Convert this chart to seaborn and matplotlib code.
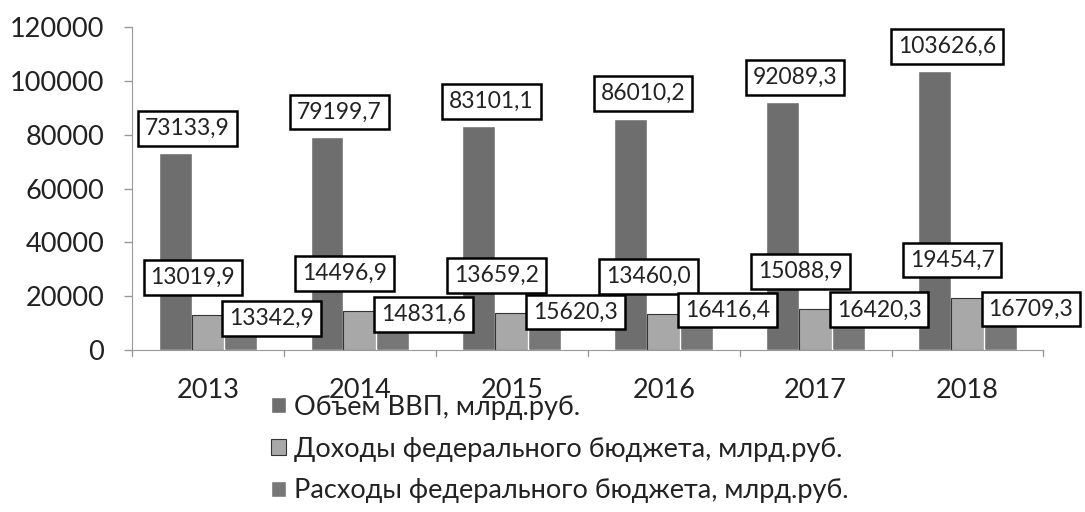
import matplotlib
matplotlib.use("Agg")
import matplotlib.pyplot as plt
import seaborn as sns
import pandas as pd

# DATA
years = ["2013", "2014", "2015", "2016", "2017", "2018"]
gdp = [73133.9, 79199.7, 83101.1, 86010.2, 92089.3, 103626.6]
revenue = [13019.9, 14496.9, 13659.2, 13460.0, 15088.9, 19454.7]
expenses = [13342.9, 14831.6, 15620.3, 16416.4, 16420.3, 16709.3]
series_names = ["Объем ВВП, млрд.руб.",
                "Доходы федерального бюджета, млрд.руб.",
                "Расходы федерального бюджета, млрд.руб."]

df = pd.DataFrame({
    "year": years * 3,
    "value": gdp + revenue + expenses,
    "series": [series_names[0]] * 6 + [series_names[1]] * 6 + [series_names[2]] * 6,
})

sns.set_style("white")
plt.rcParams["font.family"] = ["Lato", "DejaVu Sans"]

colors = ["#6e6e6e", "#a8a8a8", "#777777"]

fig = plt.figure(figsize=(10.85, 5.12), dpi=100)
ax = fig.add_axes([0.1217, 0.3164, 0.84, 0.6305])
sns.barplot(data=df, x="year", y="value", hue="series", palette=colors,
            width=0.65, ax=ax, legend=True, saturation=1)

# thin outline on the revenue bars only
for p in ax.containers[1]:
    p.set_edgecolor("#333333")
    p.set_linewidth(0.8)

ax.set_ylim(0, 120000)
ax.set_yticks(range(0, 120001, 20000))
ax.set_xlabel("")
ax.set_ylabel("")
ax.tick_params(axis="both", labelsize=19.5, colors="#222222")
ax.tick_params(axis="y", length=6, width=1, color="#999999", left=True, pad=14)
ax.tick_params(axis="x", length=0, pad=20)
for s in ["top", "right"]:
    ax.spines[s].set_visible(False)
ax.spines["left"].set_color("#999999")
ax.spines["bottom"].set_color("#999999")
# category separators on the x axis
for i in range(len(years) + 1):
    ax.plot([i - 0.5, i - 0.5], [0, -2200], color="#999999", lw=1, clip_on=False)
ax.set_xlim(-0.5, len(years) - 0.5)

box = dict(boxstyle="square,pad=0.3", fc="white", ec="black", lw=1.8)

def fmt(v):
    return f"{v:.1f}".replace(".", ",")

# GDP labels above bars
for p, v in zip(ax.containers[0], gdp):
    xc = p.get_x() + p.get_width() / 2
    ax.annotate(fmt(v), (xc, v), xytext=(9, 18), textcoords="offset points",
                ha="center", va="center", fontsize=16.5, color="#222222", bbox=box)
# revenue labels
for p, v in zip(ax.containers[1], revenue):
    xc = p.get_x() + p.get_width() / 2
    ax.annotate(fmt(v), (xc, v + 14000), xytext=(-11, 0), textcoords="offset points",
                ha="center", va="center", fontsize=16.5, color="#222222", bbox=box)
# expense labels
for p, v in zip(ax.containers[2], expenses):
    xc = p.get_x() + p.get_width() / 2
    ax.annotate(fmt(v), (xc, v - 1500), xytext=(22, 0), textcoords="offset points",
                ha="center", va="center", fontsize=16.5, color="#222222", bbox=box)

handles, labels = ax.get_legend_handles_labels()
ax.get_legend().remove()
leg = fig.legend(handles, labels, loc="upper left", bbox_to_anchor=(0.24, 0.25),
                 frameon=False, fontsize=19.5, handlelength=0.55, handleheight=0.55,
                 handletextpad=0.3, labelspacing=0.62, borderaxespad=0)
for t in leg.get_texts():
    t.set_color("#222222")
leg.legend_handles[1].set_edgecolor("#333333")
leg.legend_handles[1].set_linewidth(0.8)

fig.savefig("out.png", dpi=100)
